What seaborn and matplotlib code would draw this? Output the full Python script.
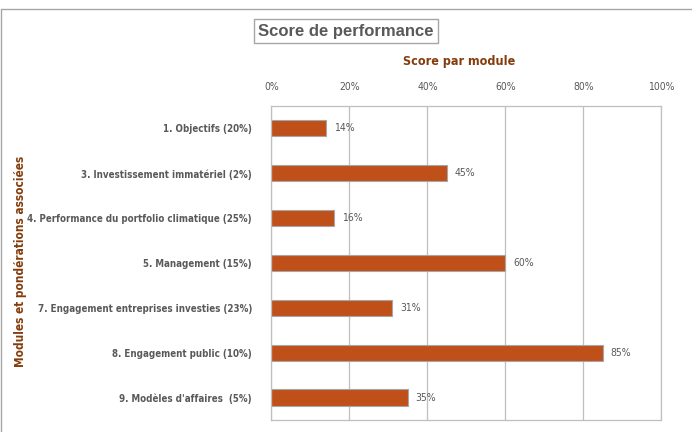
import matplotlib
matplotlib.use('Agg')
import matplotlib.pyplot as plt
import seaborn as sns
import pandas as pd
from matplotlib.ticker import PercentFormatter
from matplotlib.lines import Line2D

modules = ['1. Objectifs (20%)', '3. Investissement immatériel (2%)',
           '4. Performance du portfolio climatique (25%)', '5. Management (15%)',
           '7. Engagement entreprises investies (23%)', '8. Engagement public (10%)',
           "9. Modèles d'affaires  (5%)"]
scores = [14, 45, 16, 60, 31, 85, 35]

df = pd.DataFrame({'module': modules, 'score': scores})

sns.set_theme(style='white')
plt.rcParams['font.family'] = ['DejaVu Sans']
plt.rcParams['font.stretch'] = 'condensed'

grey = '#595959'
brown = '#843C0C'
bar_col = '#C0501A'

fig = plt.figure(figsize=(6.92, 4.32), dpi=100)
ax = fig.add_axes([0.3923, 0.0278, 0.5636, 0.7269])

sns.barplot(data=df, x='score', y='module', color=bar_col, width=0.36,
            edgecolor='#A6A6A6', linewidth=0.8, saturation=1, ax=ax)

ax.set_xlim(0, 100)
ax.set_xticks([0, 20, 40, 60, 80, 100])
ax.xaxis.set_major_formatter(PercentFormatter(decimals=0))
ax.xaxis.tick_top()
ax.tick_params(axis='x', length=0, pad=10, labelsize=7.5, labelcolor=grey)
ax.tick_params(axis='y', length=0, pad=14, labelsize=7, labelcolor=grey)
for t in ax.get_yticklabels():
    t.set_fontweight('bold')
ax.grid(axis='x', color='#BFBFBF', linewidth=0.9)
ax.set_axisbelow(True)
for s in ax.spines.values():
    s.set_color('#BFBFBF')
    s.set_linewidth(0.9)

for i, v in enumerate(scores):
    ax.text(v + 2, i, f'{v}%', va='center', ha='left', fontsize=7.5, color=grey)

ax.set_xlabel('')
ax.set_ylabel('')
fig.text(0.663, 0.857, 'Score par module', ha='center', va='center',
         fontsize=9, fontweight='bold', color=brown)
fig.text(0.029, 0.394, 'Modules et pondérations associées', rotation=90, ha='center',
         va='center', fontsize=8.5, fontweight='bold', color=brown)

fig.text(0.5, 0.928, 'Score de performance', ha='center', va='center', fontsize=12,
         fontweight='bold', color=grey, family='Liberation Sans', stretch='normal',
         bbox=dict(boxstyle='square,pad=0.25', fc='white', ec='#A6A6A6', lw=1))

# outer frame: only top and left edges visible in the crop
fig.lines.append(Line2D([0.002, 1.0], [0.979, 0.979], transform=fig.transFigure,
                        color='#A6A6A6', lw=1))
fig.lines.append(Line2D([0.002, 0.002], [0.0, 0.979], transform=fig.transFigure,
                        color='#A6A6A6', lw=1))

fig.savefig('out.png', dpi=100)
